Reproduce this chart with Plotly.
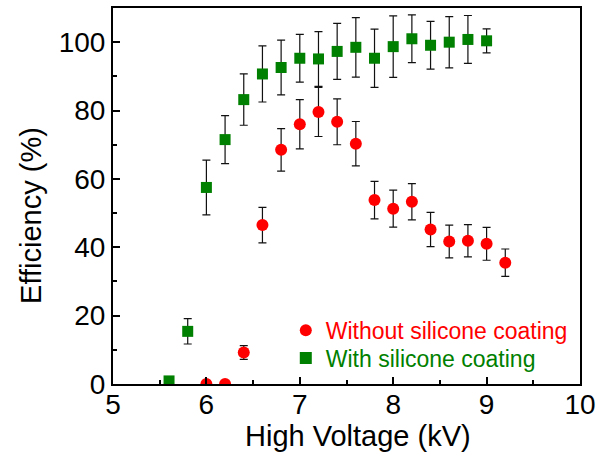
import plotly.graph_objects as go

# Without silicone coating (red circles)
x_red = [6.0, 6.2, 6.4, 6.6, 6.8, 7.0, 7.2, 7.4, 7.6, 7.8, 8.0, 8.2, 8.4, 8.6, 8.8, 9.0, 9.2]
y_red = [0.0, 0.0, 9.2, 46.5, 68.5, 76.0, 79.6, 76.7, 70.3, 53.8, 51.3, 53.3, 45.2, 41.7, 41.9, 41.0, 35.5]
e_red = [0.8, 0.5, 2.0, 5.2, 6.2, 7.2, 7.2, 6.7, 6.5, 5.5, 5.4, 5.3, 5.0, 4.8, 4.7, 4.8, 4.0]

# With silicone coating (green squares)
x_grn = [5.6, 5.8, 6.0, 6.2, 6.4, 6.6, 6.8, 7.0, 7.2, 7.4, 7.6, 7.8, 8.0, 8.2, 8.4, 8.6, 8.8, 9.0]
y_grn = [0.9, 15.4, 57.5, 71.5, 83.2, 90.7, 92.6, 95.3, 95.1, 97.3, 98.5, 95.3, 98.7, 101.0, 99.1, 100.0, 100.8, 100.4]
e_grn = [1.0, 3.7, 8.0, 7.0, 7.5, 8.2, 8.0, 7.0, 8.0, 8.2, 8.7, 8.5, 9.0, 7.0, 7.0, 7.5, 7.0, 3.5]

x_title = "High Voltage (kV)"
y_title = "Efficiency (%)"

font_family = "Liberation Sans, Arial, sans-serif"
RED = "#ff0000"
GREEN = "#008000"

fig = go.Figure()
fig.add_trace(go.Scatter(
    x=x_red, y=y_red, mode="markers", name="Without silicone coating",
    marker=dict(symbol="circle", size=12, color=RED),
    error_y=dict(type="data", array=e_red, visible=True, color="#111111", thickness=1.2, width=4),
    legend="legend",
))
fig.add_trace(go.Scatter(
    x=x_grn, y=y_grn, mode="markers", name="With silicone coating",
    marker=dict(symbol="square", size=11, color=GREEN),
    error_y=dict(type="data", array=e_grn, visible=True, color="#111111", thickness=1.2, width=4),
    legend="legend2",
))

axis_common = dict(
    showline=True, linecolor="black", linewidth=2, mirror=True,
    ticks="inside", ticklen=7, tickwidth=1.5, tickcolor="black",
    showgrid=False, zeroline=False,
    tickfont=dict(family=font_family, size=28, color="black"),
)

fig.update_xaxes(
    range=[5, 10], dtick=1, tick0=5,
    ticklabelstandoff=-6,
    minor=dict(ticks="inside", ticklen=4, tickwidth=1.5, tickcolor="black", dtick=0.5),
    **axis_common,
)
fig.update_yaxes(
    range=[0, 110], dtick=20, tick0=0,
    minor=dict(ticks="inside", ticklen=4, tickwidth=1.5, tickcolor="black", dtick=10),
    **axis_common,
)

legend_common = dict(
    xanchor="left", yanchor="middle",
    bgcolor="rgba(0,0,0,0)", borderwidth=0,
    itemsizing="constant",
)

fig.add_annotation(
    text=x_title, xref="paper", yref="paper", x=0.5246, y=-0.1376,
    xanchor="center", yanchor="middle", showarrow=False,
    font=dict(family=font_family, size=29, color="black"),
)
fig.add_annotation(
    text=y_title, xref="paper", yref="paper", x=-0.1756, y=0.4497,
    xanchor="center", yanchor="middle", showarrow=False, textangle=-90,
    font=dict(family=font_family, size=29, color="black"),
)

fig.update_layout(
    width=607, height=453,
    margin=dict(l=113, r=27, t=6, b=69),
    plot_bgcolor="white", paper_bgcolor="white",
    showlegend=True,
    legend=dict(x=0.37, y=0.143, font=dict(family=font_family, size=23, color=RED), **legend_common),
    legend2=dict(x=0.37, y=0.069, font=dict(family=font_family, size=23, color=GREEN), **legend_common),
)

fig.write_html("out.html")
